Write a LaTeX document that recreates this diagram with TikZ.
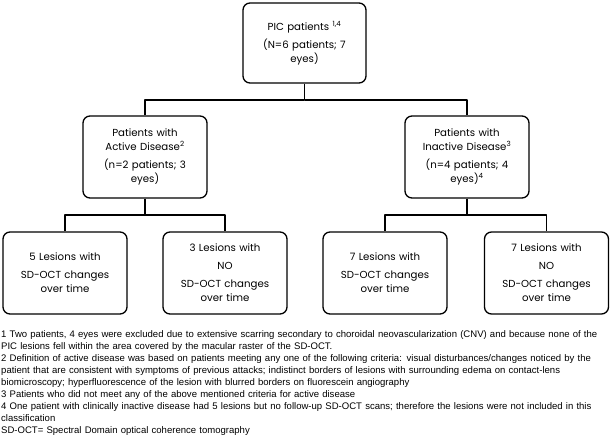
\documentclass[tikz,border=0pt]{standalone}
\usepackage{fontspec}
\setmainfont{Liberation Sans}
\newfontfamily\boxfont{Poppins}
\usetikzlibrary{positioning}
\tikzset{
  box/.style={draw,rounded corners=7pt,line width=1.3pt,minimum width=124pt,minimum height=82pt,
    text width=118pt,align=center,inner sep=2pt,font=\boxfont\fontsize{10.2}{14}\selectfont},
  link/.style={line width=1.3pt,black}
}
\begin{document}
\begin{tikzpicture}[x=1pt,y=-1pt,line join=round]
			\useasboundingbox (0,0) rectangle (610,438);
			% junction levels
			\coordinate (J-1) at (0,100);
			\coordinate (J-2) at (0,215);
			% boxes
			\node[box,minimum width=123pt,minimum height=80pt] (pic) at (304.5,43) {PIC patients \textsuperscript{1,4}\\[4pt](N=6 patients; 7\\eyes)};
			\node[box] (act) at (145,157) {Patients with\\Active Disease\textsuperscript{2}\\[4pt](n=2 patients; 3\\eyes)};
			\node[box] (inact) at (467,157) {Patients with\\Inactive Disease\textsuperscript{3}\\[4pt](n=4 patients; 4\\eyes)\textsuperscript{4}};
			\node[box] (act-1) at (65,273) {5 Lesions with\\[4pt]SD-OCT changes\\over time};
			\node[box] (act-2) at (225,273) {3 Lesions with\\[4pt]NO\\[4pt]SD-OCT changes\\over time};
			\node[box] (inact-1) at (385,273) {7 Lesions with\\[4pt]SD-OCT changes\\over time};
			\node[box] (inact-2) at (546.5,273) {7 Lesions with\\[4pt]NO\\[4pt]SD-OCT changes\\over time};
			% connectors
			\draw[link] (pic.south)--(pic.south|-J-1) -| (act.north);
			\draw[link] (pic.south|-J-1) -| (inact.north);
			\draw[link] (act.south)--(act.south|-J-2) -| (act-1.north);
			\draw[link] (act.south|-J-2) -| (act-2.north);
			\draw[link] (inact.south)--(inact.south|-J-2) -| (inact-1.north);
			\draw[link] (inact.south|-J-2) -| (inact-2.north);
			% footnotes
			\node[anchor=north west,inner sep=0pt,text width=640pt,align=left,font=\fontsize{9.55}{12.1}\selectfont] (notes) at (1,330) {1 Two patients, 4 eyes were excluded due to extensive scarring secondary to choroidal neovascularization (CNV) and because none of the\\
PIC lesions fell within the area covered by the macular raster of the SD-OCT.\\
2 Definition of active disease was based on patients meeting any one of the following criteria: visual disturbances/changes noticed by the\\
patient that are consistent with symptoms of previous attacks; indistinct borders of lesions with surrounding edema on contact-lens\\
biomicroscopy; hyperfluorescence of the lesion with blurred borders on fluorescein angiography\\
3 Patients who did not meet any of the above mentioned criteria for active disease\\
4 One patient with clinically inactive disease had 5 lesions but no follow-up SD-OCT scans; therefore the lesions were not included in this\\
classification\\
SD-OCT= Spectral Domain optical coherence tomography};
\end{tikzpicture}
\end{document}
